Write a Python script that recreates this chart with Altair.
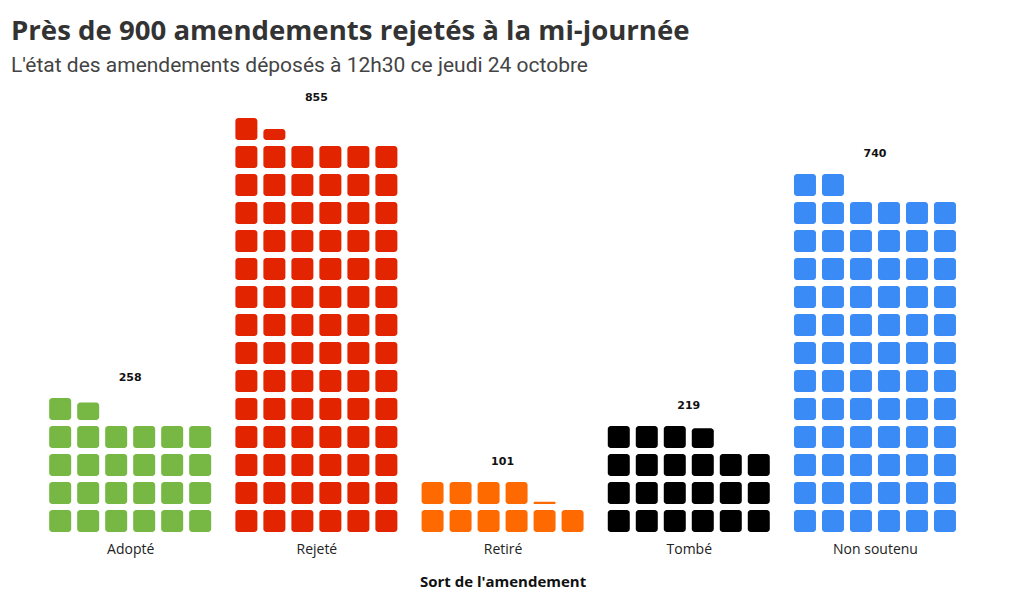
import altair as alt
import pandas as pd
import math

categories = ["Adopté", "Rejeté", "Retiré", "Tombé", "Non soutenu"]
values = [258, 855, 101, 219, 740]
colors = ["#76b843", "#e22400", "#ff6a00", "#000000", "#3b8bf6"]

UNIT = 10          # amendments per square
PER_ROW = 6        # squares per row
CAT_STEP = 6.65    # x units between category centres
SQ = 22 / 28       # square size relative to pitch
MARGIN = (CAT_STEP - (PER_ROW - 1) - SQ) / 2

rows = []
labels = []
for ci, (cat, v) in enumerate(zip(categories, values)):
    n_full = v // UNIT
    frac = (v % UNIT) / UNIT
    cells = [1.0] * n_full + ([frac] if frac > 0 else [])
    for i, f in enumerate(cells):
        r, c = divmod(i, PER_ROW)
        x0 = ci * CAT_STEP + MARGIN + c
        rows.append({"cat": cat, "x": x0, "x2": x0 + SQ, "y": r, "y2": r + f * SQ})
    nrows = math.ceil(len(cells) / PER_ROW)
    labels.append({"cat": cat, "v": v, "x": ci * CAT_STEP + CAT_STEP / 2, "y": nrows + 0.5})

df = pd.DataFrame(rows)
lab = pd.DataFrame(labels)

PX = 28
XMIN, XMAX = -0.86 - 2 / PX, 5 * CAT_STEP
YMAX = 16

centers = [i * CAT_STEP + CAT_STEP / 2 for i in range(len(categories))]
arr = "[" + ",".join("'" + c.replace("'", "\\'") + "'" for c in categories) + "]"
label_expr = f"{arr}[round((datum.value - {CAT_STEP/2}) / {CAT_STEP})]"

xscale = alt.Scale(domain=[XMIN, XMAX], nice=False, zero=False)
yscale = alt.Scale(domain=[0, YMAX], nice=False, zero=False)

squares = alt.Chart(df).mark_rect(cornerRadius=3).encode(
    x=alt.X("x:Q", scale=xscale, title="Sort de l'amendement",
            axis=alt.Axis(values=centers, labelExpr=label_expr, grid=False, domain=False,
                          ticks=False, labelFontSize=14, labelColor="#222222",
                          labelFont="Open Sans", labelPadding=11,
                          titleFont="Open Sans", titleFontSize=15, titleFontWeight="bold",
                          titleColor="#111111", titlePadding=18,
                          titleX=(XMAX / 2 - XMIN) * PX, titleAlign="center")),
    x2="x2:Q",
    y=alt.Y("y:Q", scale=yscale, axis=None),
    y2="y2:Q",
    color=alt.Color("cat:N", scale=alt.Scale(domain=categories, range=colors), legend=None),
)

text = alt.Chart(lab).mark_text(fontWeight="bold", fontSize=11, font="DejaVu Sans",
                                color="#111111", baseline="middle").encode(
    x=alt.X("x:Q", scale=xscale),
    y=alt.Y("y:Q", scale=yscale),
    text="v:Q",
)

chart = (squares + text).properties(
    width=(XMAX - XMIN) * PX,
    height=YMAX * PX,
    padding={"left": 3, "top": 10, "right": 5, "bottom": 5},
    title=alt.Title(
        "Près de 900 amendements rejetés à la mi-journée",
        subtitle="L'état des amendements déposés à 12h30 ce jeudi 24 octobre",
        anchor="start", font="Open Sans", fontSize=27.6, fontWeight="bold", color="#333333",
        subtitleFont="Roboto", subtitleFontSize=21, subtitleColor="#444444",
        subtitlePadding=9, offset=8,
    ),
).configure_view(stroke=None)

chart.save("out.html", embed_options={"renderer": "svg", "actions": False})
